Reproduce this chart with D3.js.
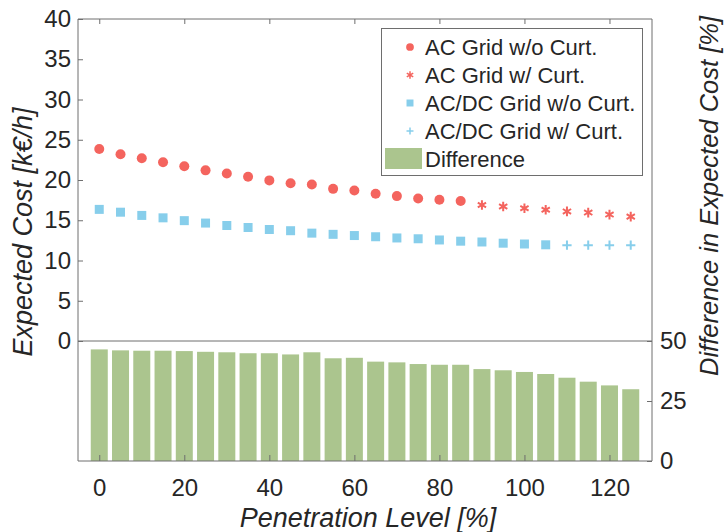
<!DOCTYPE html>
<html>
<head>
<meta charset="utf-8">
<script src="https://cdn.jsdelivr.net/npm/d3@7"></script>
<style>
  body { margin: 0; background: #fff; }
  svg { font-family: "Liberation Sans", Arial, sans-serif; }
</style>
</head>
<body>
<div id="container"></div>
<script>
// ---------- DATA ----------
const penetration = [0, 5, 10, 15, 20, 25, 30, 35, 40, 45, 50, 55, 60, 65, 70, 75, 80, 85, 90, 95, 100, 105, 110, 115, 120, 125];

// AC grid: points below 90 % w/o curtailment, the rest with curtailment
const acCost = [23.85, 23.2, 22.7, 22.2, 21.7, 21.2, 20.8, 20.4, 19.95, 19.6, 19.45, 18.9, 18.7, 18.3, 18.0, 17.7, 17.55, 17.4,
                16.9, 16.7, 16.5, 16.3, 16.1, 15.95, 15.7, 15.45];
const acCurtFrom = 90;

// AC/DC grid: points below 110 % w/o curtailment, the rest with curtailment
const acdcCost = [16.35, 16.0, 15.6, 15.3, 14.95, 14.65, 14.35, 14.1, 13.85, 13.7, 13.4, 13.25, 13.1, 12.95, 12.8, 12.7, 12.55, 12.4,
                  12.3, 12.15, 12.05, 11.95, 11.9, 11.9, 11.9, 11.9];
const acdcCurtFrom = 110;

const difference = [46.5, 46.1, 45.95, 45.95, 45.8, 45.5, 45.3, 44.9, 44.9, 44.4, 45.3, 42.8, 43.0, 41.4, 41.1, 40.4, 40.1, 40.1,
                    38.3, 37.8, 37.1, 36.25, 34.7, 33.05, 31.5, 29.9];

const costTicks = [0, 5, 10, 15, 20, 25, 30, 35, 40];
const diffTicks = [0, 25, 50];
const xTicks = [0, 20, 40, 60, 80, 100, 120];

const legendLabels = ['AC Grid w/o Curt.', 'AC Grid w/ Curt.', 'AC/DC Grid w/o Curt.', 'AC/DC Grid w/ Curt.', 'Difference'];

// ---------- STYLE ----------
const red = '#f4645e';
const blue = '#87ceeb';
const green = '#abc58e';
const axisColor = '#6e6e6e';
const textColor = '#262626';

// ---------- DIMENSIONS ----------
const width = 725;
const height = 532;
const plotLeft = 78;
const plotRight = 652;
const plotTop = 19;
const plotMid = 341;
const plotBottom = 461;

const svg = d3.select('#container').append('svg')
    .attr('width', width)
    .attr('height', height);

// ---------- SCALES ----------
const x = d3.scaleLinear().domain([-5, 130]).range([plotLeft, plotRight]);
const yCost = d3.scaleLinear().domain([0, 40]).range([plotMid, plotTop]);
const yDiff = d3.scaleLinear().domain([0, 50]).range([plotBottom, plotMid]);

const step = x(5) - x(0);
const barW = step * 0.8;

// ---------- BARS ----------
svg.append('g')
    .selectAll('rect')
    .data(penetration.map((p, i) => ({ p, v: difference[i] })))
    .join('rect')
    .attr('x', d => x(d.p) - barW / 2)
    .attr('width', barW)
    .attr('y', d => yDiff(d.v))
    .attr('height', d => yDiff(0) - yDiff(d.v))
    .attr('fill', green);

// ---------- MARKERS ----------
const markers = {
    circle: { type: d3.symbolCircle, size: Math.PI * 25, filled: true },
    square: { type: d3.symbolSquare, size: 81, filled: true },
    star: { type: d3.symbolAsterisk, size: 64, filled: false },
    plus: { type: d3.symbolPlus, size: 30, filled: false }
};

const acPts = penetration.map((p, i) => ({ p, v: acCost[i] }));
const acdcPts = penetration.map((p, i) => ({ p, v: acdcCost[i] }));

function drawPoints(data, m, color) {
    svg.append('g')
        .selectAll('path')
        .data(data)
        .join('path')
        .attr('transform', d => `translate(${x(d.p)},${yCost(d.v)})`)
        .attr('d', d3.symbol().type(m.type).size(m.size))
        .attr('fill', m.filled ? color : 'none')
        .attr('stroke', m.filled ? 'none' : color)
        .attr('stroke-width', m.filled ? 0 : 2);
}

drawPoints(acdcPts.filter(d => d.p < acdcCurtFrom), markers.square, blue);
drawPoints(acdcPts.filter(d => d.p >= acdcCurtFrom), markers.plus, blue);
drawPoints(acPts.filter(d => d.p < acCurtFrom), markers.circle, red);
drawPoints(acPts.filter(d => d.p >= acCurtFrom), markers.star, red);

// ---------- AXES ----------
const tickFont = 24;

// top panel left axis
svg.append('g')
    .attr('transform', `translate(${plotLeft},0)`)
    .call(d3.axisLeft(yCost).tickValues(costTicks).tickSizeInner(-5).tickSizeOuter(0).tickPadding(7))
    .call(g => g.select('.domain').remove());

// top panel top edge ticks
svg.append('g')
    .attr('transform', `translate(0,${plotTop})`)
    .call(d3.axisTop(x).tickValues(xTicks).tickSizeInner(-5).tickSizeOuter(0).tickFormat(''))
    .call(g => g.select('.domain').remove());

// bottom panel x axis
svg.append('g')
    .attr('transform', `translate(0,${plotBottom})`)
    .call(d3.axisBottom(x).tickValues(xTicks).tickSizeInner(-6).tickSizeOuter(0).tickPadding(18))
    .call(g => g.select('.domain').remove());

// bottom panel right axis
svg.append('g')
    .attr('transform', `translate(${plotRight},0)`)
    .call(d3.axisRight(yDiff).tickValues(diffTicks).tickSizeInner(-5).tickSizeOuter(0).tickPadding(8))
    .call(g => g.select('.domain').remove());

svg.selectAll('.tick line').attr('stroke', axisColor);
svg.selectAll('.tick text')
    .attr('fill', textColor)
    .style('font-size', tickFont + 'px')
    .style('font-family', '"Liberation Sans", Arial, sans-serif');

// frame lines
const frame = svg.append('g').attr('stroke', axisColor).attr('stroke-width', 1).attr('fill', 'none');
frame.append('line').attr('x1', plotLeft).attr('x2', plotLeft).attr('y1', plotTop).attr('y2', plotBottom);
frame.append('line').attr('x1', plotRight).attr('x2', plotRight).attr('y1', plotTop).attr('y2', plotBottom);
frame.append('line').attr('x1', plotLeft).attr('x2', plotRight).attr('y1', plotTop).attr('y2', plotTop);
frame.append('line').attr('x1', plotLeft).attr('x2', plotRight).attr('y1', plotMid).attr('y2', plotMid);
frame.append('line').attr('x1', plotLeft).attr('x2', plotRight).attr('y1', plotBottom).attr('y2', plotBottom);

// ---------- AXIS TITLES ----------
svg.append('text')
    .attr('x', 368)
    .attr('y', 527)
    .attr('text-anchor', 'middle')
    .attr('fill', textColor)
    .style('font-size', '27px')
    .style('font-style', 'italic')
    .text('Penetration Level [%]');

svg.append('text')
    .attr('transform', `translate(32,232) rotate(-90)`)
    .attr('text-anchor', 'middle')
    .attr('fill', textColor)
    .style('font-size', '27px')
    .style('font-style', 'italic')
    .text('Expected Cost [k€/h]');

svg.append('text')
    .attr('transform', `translate(718,196) rotate(-90)`)
    .attr('text-anchor', 'middle')
    .attr('fill', textColor)
    .style('font-size', '25.5px')
    .style('font-style', 'italic')
    .text('Difference in Expected Cost [%]');

// ---------- LEGEND ----------
const legend = svg.append('g');
legend.append('rect')
    .attr('x', 381.5).attr('y', 28.5)
    .attr('width', 261).attr('height', 147)
    .attr('fill', '#fff')
    .attr('stroke', axisColor);

const legendSyms = [
    { m: markers.circle, color: red },
    { m: markers.star, color: red },
    { m: markers.square, color: blue },
    { m: markers.plus, color: blue },
    { bar: true }
];

legendLabels.forEach((label, i) => {
    const cy = 47 + i * 28;
    const s = legendSyms[i];
    if (s.bar) {
        legend.append('rect')
            .attr('x', 385).attr('y', cy - 11)
            .attr('width', 37).attr('height', 21)
            .attr('fill', green);
    } else {
        legend.append('path')
            .attr('transform', `translate(410,${cy})`)
            .attr('d', d3.symbol().type(s.m.type).size(s.m.size * 0.6))
            .attr('fill', s.m.filled ? s.color : 'none')
            .attr('stroke', s.m.filled ? 'none' : s.color)
            .attr('stroke-width', s.m.filled ? 0 : 1.5);
    }
    legend.append('text')
        .attr('x', 425)
        .attr('y', cy)
        .attr('dy', '0.35em')
        .attr('fill', textColor)
        .style('font-size', '22px')
        .text(label);
});
</script>
</body>
</html>
